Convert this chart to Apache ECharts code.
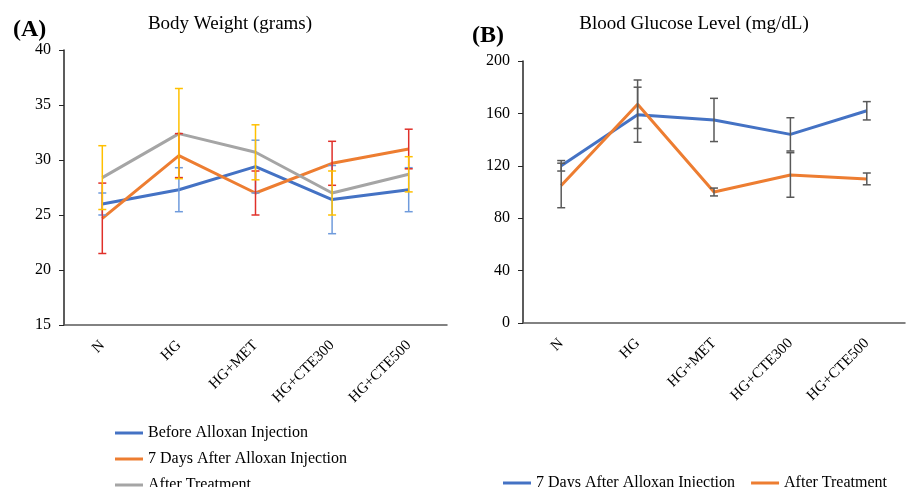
<!DOCTYPE html>
<html>
<head>
<meta charset="utf-8">
<script src="https://cdn.jsdelivr.net/npm/echarts@6/dist/echarts.min.js"></script>
<style>
html,body{margin:0;padding:0;background:#fff;}
#c{width:909px;height:487px;}
</style>
</head>
<body>
<div id="c"></div>
<script>
const categories = ['N', 'HG', 'HG+MET', 'HG+CTE300', 'HG+CTE500'];

// (A) Body Weight (grams)
const bwBefore = [26.0, 27.3, 29.4, 26.4, 27.3];
const bwBeforeErr = [1.0, 2.0, 2.4, 3.1, 2.0];
const bw7Days = [24.7, 30.4, 27.0, 29.7, 31.0];
const bw7DaysErr = [3.2, 2.0, 2.0, 2.0, 1.8];
const bwAfter = [28.4, 32.4, 30.7, 27.0, 28.7];
const bwAfterErr = [2.9, 4.1, 2.5, 2.0, 1.6];

// (B) Blood Glucose Level (mg/dL)
const bg7Days = [120, 159, 155, 144, 162];
const bg7DaysErr = [4, 21, 16.5, 12.7, 7];
const bgAfter = [105, 167, 100, 113, 110];
const bgAfterErr = [17, 18.5, 3, 17, 4.5];

const seriesNamesA = ['Before Alloxan Injection', '7 Days After Alloxan Injection', 'After Treatment'];
const seriesNamesB = ['7 Days After Alloxan Injection', 'After Treatment'];

const BLUE = '#4472C4', ORANGE = '#ED7D31', GRAY = '#A5A5A5';
const FONT = 'Liberation Serif';

function errSeries(gi, vals, errs, color) {
  return {
    type: 'custom',
    xAxisIndex: gi, yAxisIndex: gi,
    z: 5,
    silent: true,
    data: vals.map((v, i) => [i, v - errs[i], v + errs[i]]),
    encode: { x: 0, y: [1, 2] },
    renderItem: function (params, api) {
      const x = api.value(0);
      const lo = api.coord([x, api.value(1)]);
      const hi = api.coord([x, api.value(2)]);
      const w = 4;
      const st = { stroke: color, lineWidth: 1.5 };
      return {
        type: 'group',
        children: [
          { type: 'line', shape: { x1: lo[0], y1: lo[1], x2: hi[0], y2: hi[1] }, style: st },
          { type: 'line', shape: { x1: lo[0] - w, y1: lo[1], x2: lo[0] + w, y2: lo[1] }, style: st },
          { type: 'line', shape: { x1: hi[0] - w, y1: hi[1], x2: hi[0] + w, y2: hi[1] }, style: st }
        ]
      };
    }
  };
}

function lineSeries(gi, name, vals, color) {
  return {
    type: 'line', name: name, xAxisIndex: gi, yAxisIndex: gi,
    data: vals, symbol: 'none', z: 3,
    lineStyle: { color: color, width: 3 },
    itemStyle: { color: color }
  };
}

function xAxis(gi) {
  return {
    type: 'category', gridIndex: gi, data: categories, boundaryGap: true,
    axisLine: { lineStyle: { color: '#595959', width: 1.5 } },
    axisTick: { show: false },
    axisLabel: { rotate: 45, margin: 18, color: '#000', fontFamily: FONT, fontSize: 15, interval: 0 }
  };
}
function yAxis(gi, min, max, interval) {
  return {
    type: 'value', gridIndex: gi, min: min, max: max, interval: interval,
    splitLine: { show: false },
    axisLine: { show: true, lineStyle: { color: '#262626', width: 1.5 } },
    axisTick: { show: true, length: 5, lineStyle: { color: '#262626' } },
    axisLabel: { color: '#000', fontFamily: FONT, fontSize: 16, margin: 13 }
  };
}

function legendItem(names, left, top, gap) {
  return {
    data: names, orient: 'horizontal', left: left, top: top, itemGap: gap || 16,
    padding: 0,
    itemWidth: 28, itemHeight: 3, icon: 'rect',
    textStyle: { fontFamily: FONT, fontSize: 16, color: '#000' },
    formatter: n => n.trim(),
    selectedMode: false
  };
}

const chart = echarts.init(document.getElementById('c'));
chart.setOption({
  animation: false,
  backgroundColor: '#fff',
  title: [
    { text: '(A)', left: 13, top: 18, padding: 0, textStyle: { fontFamily: FONT, fontWeight: 'bold', fontSize: 24, color: '#000' } },
    { text: 'Body Weight (grams)', left: 230, top: 15, padding: 0, textAlign: 'center', textStyle: { fontFamily: FONT, fontWeight: 'normal', fontSize: 19, color: '#000' } },
    { text: '(B)', left: 472, top: 24, padding: 0, textStyle: { fontFamily: FONT, fontWeight: 'bold', fontSize: 24, color: '#000' } },
    { text: 'Blood Glucose Level (mg/dL)', left: 694, top: 15, padding: 0, textAlign: 'center', textStyle: { fontFamily: FONT, fontWeight: 'normal', fontSize: 19, color: '#000' } }
  ],
  legend: [
    legendItem([seriesNamesA[0]], 115, 425),
    legendItem([seriesNamesA[1]], 115, 451),
    legendItem([seriesNamesA[2]], 115, 477),
    legendItem(seriesNamesB.map(n => n + ' '), 503, 475, 16)
  ],
  grid: [
    { left: 64, right: 462, top: 50, bottom: 162 },
    { left: 523, right: 4, top: 61, bottom: 164 }
  ],
  xAxis: [xAxis(0), xAxis(1)],
  yAxis: [yAxis(0, 15, 40, 5), yAxis(1, 0, 200, 40)],
  series: [
    lineSeries(0, seriesNamesA[0], bwBefore, BLUE),
    lineSeries(0, seriesNamesA[1], bw7Days, ORANGE),
    lineSeries(0, seriesNamesA[2], bwAfter, GRAY),
    errSeries(0, bwBefore, bwBeforeErr, '#6F9BDC'),
    errSeries(0, bw7Days, bw7DaysErr, '#E0302A'),
    errSeries(0, bwAfter, bwAfterErr, '#FFC000'),
    lineSeries(1, seriesNamesB[0] + ' ', bg7Days, BLUE),
    lineSeries(1, seriesNamesB[1] + ' ', bgAfter, ORANGE),
    errSeries(1, bg7Days, bg7DaysErr, '#595959'),
    errSeries(1, bgAfter, bgAfterErr, '#595959')
  ]
});
</script>
</body>
</html>
